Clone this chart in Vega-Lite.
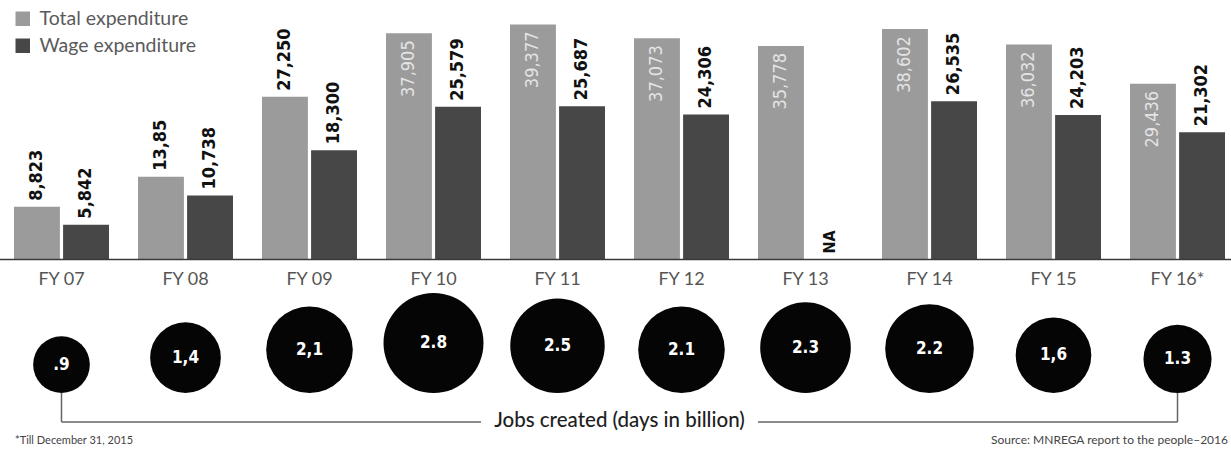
{
  "$schema": "https://vega.github.io/schema/vega-lite/v6.json",
  "width": 1231,
  "height": 453,
  "autosize": "none",
  "padding": 0,
  "background": "white",
  "config": {
    "view": {"stroke": null},
    "font": "Lato",
    "axisX": {"offset": -193, "domain": false, "ticks": false, "grid": false, "labelFontSize": 18, "labelColor": "#555555", "labelPadding": 10, "labelFont": "Lato", "labelAngle": 0}
  },
  "datasets": {
    "exp": [
      {"fy": "FY 07", "series": "Total expenditure", "value": 8823, "label": "8,823"},
      {"fy": "FY 07", "series": "Wage expenditure", "value": 5842, "label": "5,842"},
      {"fy": "FY 08", "series": "Total expenditure", "value": 13850, "label": "13,85"},
      {"fy": "FY 08", "series": "Wage expenditure", "value": 10738, "label": "10,738"},
      {"fy": "FY 09", "series": "Total expenditure", "value": 27250, "label": "27,250"},
      {"fy": "FY 09", "series": "Wage expenditure", "value": 18300, "label": "18,300"},
      {"fy": "FY 10", "series": "Total expenditure", "value": 37905, "label": "37,905"},
      {"fy": "FY 10", "series": "Wage expenditure", "value": 25579, "label": "25,579"},
      {"fy": "FY 11", "series": "Total expenditure", "value": 39377, "label": "39,377"},
      {"fy": "FY 11", "series": "Wage expenditure", "value": 25687, "label": "25,687"},
      {"fy": "FY 12", "series": "Total expenditure", "value": 37073, "label": "37,073"},
      {"fy": "FY 12", "series": "Wage expenditure", "value": 24306, "label": "24,306"},
      {"fy": "FY 13", "series": "Total expenditure", "value": 35778, "label": "35,778"},
      {"fy": "FY 13", "series": "Wage expenditure", "value": null, "label": "NA"},
      {"fy": "FY 14", "series": "Total expenditure", "value": 38602, "label": "38,602"},
      {"fy": "FY 14", "series": "Wage expenditure", "value": 26535, "label": "26,535"},
      {"fy": "FY 15", "series": "Total expenditure", "value": 36032, "label": "36,032"},
      {"fy": "FY 15", "series": "Wage expenditure", "value": 24203, "label": "24,203"},
      {"fy": "FY 16*", "series": "Total expenditure", "value": 29436, "label": "29,436"},
      {"fy": "FY 16*", "series": "Wage expenditure", "value": 21302, "label": "21,302"}
    ],
    "jobs": [
      {"fy": "FY 07", "jobs": 0.9, "jobsLabel": ".9"},
      {"fy": "FY 08", "jobs": 1.4, "jobsLabel": "1,4"},
      {"fy": "FY 09", "jobs": 2.1, "jobsLabel": "2,1"},
      {"fy": "FY 10", "jobs": 2.8, "jobsLabel": "2.8"},
      {"fy": "FY 11", "jobs": 2.5, "jobsLabel": "2.5"},
      {"fy": "FY 12", "jobs": 2.1, "jobsLabel": "2.1"},
      {"fy": "FY 13", "jobs": 2.3, "jobsLabel": "2.3"},
      {"fy": "FY 14", "jobs": 2.2, "jobsLabel": "2.2"},
      {"fy": "FY 15", "jobs": 1.6, "jobsLabel": "1,6"},
      {"fy": "FY 16*", "jobs": 1.3, "jobsLabel": "1.3"}
    ]
  },
  "layer": [
    {
      "data": {"name": "exp"},
      "layer": [
        {
          "mark": {"type": "bar"},
          "encoding": {
            "x": {"field": "fy", "type": "nominal", "sort": null, "title": null, "scale": {"range": [14, 1225], "paddingInner": 0.234, "paddingOuter": 0}},
            "xOffset": {"field": "series", "type": "nominal", "sort": null, "scale": {"paddingInner": 0.065, "paddingOuter": 0}},
            "y": {"field": "value", "type": "quantitative", "axis": null, "scale": {"domain": [0, 43480], "range": [259.5, 0], "nice": false}},
            "color": {
              "field": "series", "type": "nominal",
              "scale": {"domain": ["Total expenditure", "Wage expenditure"], "range": ["#9b9b9b", "#474747"]},
              "legend": {"orient": "none", "legendX": 13, "legendY": 9, "title": null, "symbolType": "square", "symbolSize": 210, "symbolStrokeWidth": 0, "labelFontSize": 19.5, "labelColor": "#5a5a5a", "labelFont": "Lato", "labelOffset": 7, "rowPadding": 6, "padding": 0}
            }
          }
        },
        {
          "data": {"values": [{}]},
          "mark": {"type": "rule", "color": "#3a3a3a", "strokeWidth": 1.5},
          "encoding": {"y": {"datum": 0, "type": "quantitative"}}
        },
        {
          "transform": [{"filter": "isValid(datum.value) && !(datum.series == 'Total expenditure' && datum.value > 28000)"}],
          "mark": {"type": "text", "angle": 270, "align": "left", "baseline": "middle", "dx": 6, "font": "DejaVu Sans Condensed", "fontWeight": "bold", "fontSize": 18, "color": "#111111"},
          "encoding": {
            "x": {"field": "fy", "type": "nominal", "sort": null, "title": null},
            "xOffset": {"field": "series", "type": "nominal", "sort": null},
            "y": {"field": "value", "type": "quantitative"},
            "text": {"field": "label"}
          }
        },
        {
          "transform": [{"filter": "isValid(datum.value) && datum.series == 'Total expenditure' && datum.value > 28000"}],
          "mark": {"type": "text", "angle": 270, "align": "right", "baseline": "middle", "dx": -7, "font": "DejaVu Sans Condensed", "fontSize": 18, "color": "#e4e4e4"},
          "encoding": {
            "x": {"field": "fy", "type": "nominal", "sort": null, "title": null},
            "xOffset": {"field": "series", "type": "nominal", "sort": null},
            "y": {"field": "value", "type": "quantitative"},
            "text": {"field": "label"}
          }
        },
        {
          "transform": [{"filter": "!isValid(datum.value)"}],
          "mark": {"type": "text", "angle": 270, "align": "left", "baseline": "middle", "dx": 6, "font": "DejaVu Sans Condensed", "fontWeight": "bold", "fontSize": 16, "color": "#111111"},
          "encoding": {
            "x": {"field": "fy", "type": "nominal", "sort": null, "title": null},
            "xOffset": {"field": "series", "type": "nominal", "sort": null},
            "y": {"datum": 0, "type": "quantitative"},
            "text": {"field": "label"}
          }
        }
      ]
    },
    {
      "data": {"name": "jobs"},
      "layer": [
        {
          "mark": {"type": "circle", "color": "#050505", "opacity": 1},
          "encoding": {
            "x": {"field": "fy", "type": "nominal", "sort": null, "title": null},
            "y": {"field": "jobs", "type": "quantitative", "axis": null, "scale": {"type": "sqrt", "domain": [0, 2.8], "range": [393, 343], "nice": false}},
            "size": {"field": "jobs", "type": "quantitative", "legend": null, "scale": {"type": "linear", "domain": [0, 2.8], "range": [0, 10000], "zero": true}}
          }
        },
        {
          "mark": {"type": "text", "font": "DejaVu Sans Condensed", "fontWeight": "bold", "fontSize": 17, "color": "#ffffff", "baseline": "middle"},
          "encoding": {
            "x": {"field": "fy", "type": "nominal", "sort": null, "title": null},
            "y": {"field": "jobs", "type": "quantitative"},
            "text": {"field": "jobsLabel"}
          }
        },
        {
          "data": {"values": [{}]},
          "mark": {"type": "rule", "color": "#666666", "strokeWidth": 1.5, "y2Offset": 29},
          "encoding": {
            "x": {"datum": "FY 07", "type": "nominal", "title": null},
            "y": {"datum": 0, "type": "quantitative"},
            "y2": {"datum": 0}
          }
        },
        {
          "data": {"values": [{}]},
          "mark": {"type": "rule", "color": "#666666", "strokeWidth": 1.5, "y2Offset": 29},
          "encoding": {
            "x": {"datum": "FY 16*", "type": "nominal", "title": null},
            "y": {"datum": 0, "type": "quantitative"},
            "y2": {"datum": 0}
          }
        },
        {
          "data": {"values": [{}]},
          "mark": {"type": "rule", "color": "#666666", "strokeWidth": 1.5, "yOffset": 29},
          "encoding": {
            "x": {"datum": "FY 07", "type": "nominal", "title": null},
            "x2": {"datum": "FY 10", "bandPosition": 1},
            "y": {"datum": 0, "type": "quantitative"}
          }
        },
        {
          "data": {"values": [{}]},
          "mark": {"type": "rule", "color": "#666666", "strokeWidth": 1.5, "yOffset": 29},
          "encoding": {
            "x": {"datum": "FY 13", "type": "nominal", "bandPosition": 0, "title": null},
            "x2": {"datum": "FY 16*"},
            "y": {"datum": 0, "type": "quantitative"}
          }
        },
        {
          "data": {"values": [{"t": "Jobs created (days in billion)"}]},
          "mark": {"type": "text", "font": "Lato", "fontSize": 20.5, "fontWeight": 500, "color": "#1e1e1e", "baseline": "middle", "align": "center", "dx": 62, "dy": 28},
          "encoding": {
            "x": {"datum": "FY 11", "type": "nominal", "title": null},
            "y": {"datum": 0, "type": "quantitative"},
            "text": {"field": "t"}
          }
        },
        {
          "data": {"values": [{"t": "*Till December 31, 2015"}]},
          "mark": {"type": "text", "font": "Lato", "fontSize": 11, "color": "#444444", "baseline": "middle", "align": "left", "dx": 1, "dy": 48},
          "encoding": {
            "x": {"datum": "FY 07", "type": "nominal", "bandPosition": 0, "title": null},
            "y": {"datum": 0, "type": "quantitative"},
            "text": {"field": "t"}
          }
        },
        {
          "data": {"values": [{"t": "Source: MNREGA report to the people–2016"}]},
          "mark": {"type": "text", "font": "Lato", "fontSize": 12, "color": "#444444", "baseline": "middle", "align": "right", "dx": 3, "dy": 47},
          "encoding": {
            "x": {"datum": "FY 16*", "type": "nominal", "bandPosition": 1, "title": null},
            "y": {"datum": 0, "type": "quantitative"},
            "text": {"field": "t"}
          }
        }
      ]
    }
  ],
  "resolve": {"scale": {"y": "independent"}}
}
